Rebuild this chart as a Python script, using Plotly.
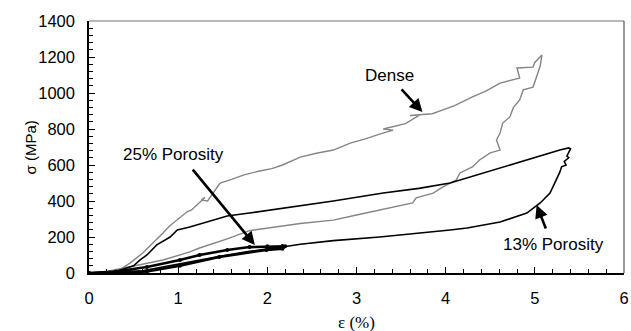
import plotly.graph_objects as go

# Dense specimen (loading + unloading)
dense_x = [0, 0.2, 0.35, 0.46, 0.6, 0.75, 0.83, 0.9, 0.95, 1.02, 1.1, 1.15, 1.21, 1.3, 1.26, 1.33, 1.39, 1.47,
           1.6, 1.73, 1.9, 2.05, 2.17, 2.37, 2.55, 2.74, 2.93, 3.1, 3.25, 3.41, 3.3, 3.55, 3.71, 3.6, 3.85, 3.97,
           4.1, 4.3, 4.45, 4.61, 4.72, 4.83, 4.8, 4.98, 5.0, 5.06, 5.08,
           5.06, 5.02, 4.98, 4.87, 4.83, 4.76, 4.72, 4.64, 4.61, 4.57, 4.61, 4.50, 4.38, 4.30, 4.16, 4.12,
           4.05, 3.97, 3.86, 3.67, 3.63, 3.41, 3.26, 3.00, 2.74, 2.37, 1.80, 1.55, 1.24, 1.13, 0.83, 0.46, 0.2, 0]
dense_y = [0, 5, 20, 55, 110, 180, 222, 260, 280, 311, 340, 350, 378, 420, 405, 400, 444, 500,
           520, 544, 565, 580, 600, 644, 665, 683, 722, 745, 770, 794, 800, 830, 878, 875, 885, 906,
           930, 978, 1010, 1055, 1070, 1083, 1139, 1144, 1170, 1200, 1211,
           1150, 1089, 1033, 1017, 961, 920, 867, 833, 778, 739, 683, 667, 628, 589, 556, 517,
           500, 478, 444, 417, 389, 367, 350, 322, 294, 275, 235, 190, 139, 117, 72, 33, 8, 0]

# 13% porosity (loading + unloading)
p13_x = [0, 0.3, 0.5, 0.57, 0.65, 0.76, 0.91, 0.99, 1.13, 1.39, 1.55, 1.80, 2.37, 2.74, 3.30, 3.70, 4.05,
         4.42, 4.80, 5.17, 5.28, 5.38,
         5.40, 5.36, 5.38, 5.33, 5.35, 5.30, 5.28, 5.24, 5.17, 5.06, 4.91, 4.61, 4.24, 4.05, 3.49, 3.26,
         2.74, 2.37, 2.17, 1.8, 1.5, 1.0, 0.6, 0.3, 0]
p13_y = [0, 8, 40, 72, 100, 156, 200, 239, 256, 294, 317, 333, 372, 400, 444, 470, 500,
         556, 611, 667, 683, 695,
         690, 650, 640, 620, 600, 590, 560, 517, 444, 389, 333, 283, 250, 239, 211, 200,
         180, 160, 144, 120, 95, 50, 12, 3, 0]

# 25% porosity (loading + unloading)
p25_x = [0, 0.3, 0.65, 1.02, 1.24, 1.55, 1.80, 2.0, 2.17, 2.2, 2.17, 1.99, 1.46, 1.02, 0.65, 0.3, 0]
p25_y = [0, 8, 33, 72, 100, 128, 144, 148, 150, 148, 135, 128, 89, 40, 8, 2, 0]

x_ticks = [0, 1, 2, 3, 4, 5, 6]
y_ticks = [0, 200, 400, 600, 800, 1000, 1200, 1400]

FONT = "Liberation Sans, Arial, sans-serif"

fig = go.Figure()
fig.add_trace(go.Scatter(x=dense_x, y=dense_y, mode="lines",
                         line=dict(color="#858585", width=1.4), showlegend=False))
fig.add_trace(go.Scatter(x=p13_x, y=p13_y, mode="lines",
                         line=dict(color="black", width=1.6), showlegend=False))
fig.add_trace(go.Scatter(x=p25_x, y=p25_y, mode="lines+markers",
                         line=dict(color="black", width=2.6),
                         marker=dict(color="black", size=4, symbol="circle"), showlegend=False))

arrow = dict(showarrow=True, arrowhead=2, arrowsize=1.0, arrowwidth=2.6, arrowcolor="black",
             axref="x", ayref="y", xref="x", yref="y")
fig.add_annotation(x=3.74, y=894, ax=3.49, ay=1028, text="", **arrow)
fig.add_annotation(x=1.86, y=156, ax=1.15, ay=583, text="", **arrow)
fig.add_annotation(x=5.02, y=378, ax=5.13, ay=239, text="", **arrow)

txt = dict(showarrow=False, xref="x", yref="y", font=dict(family=FONT, size=17, color="black"))
fig.add_annotation(x=3.37, y=1100, text="Dense", **txt)
fig.add_annotation(x=0.95, y=661, text="25% Porosity", **txt)
fig.add_annotation(x=5.21, y=156, text="13% Porosity", **txt)

# top and right frame lines
fig.add_shape(type="line", xref="x domain", yref="y domain", x0=0, x1=1, y0=1, y1=1,
              line=dict(color="#a0a0a0", width=1.5))
fig.add_shape(type="line", xref="x domain", yref="y domain", x0=1, x1=1, y0=0, y1=1,
              line=dict(color="#555555", width=1.2))

# axis titles as paper annotations
fig.add_annotation(x=0.5, y=-0.151, xref="paper", yref="paper", yanchor="top", showarrow=False,
                   text="ε (%)", font=dict(family="Liberation Serif, Times New Roman, serif",
                                           size=17, color="black"))
fig.add_annotation(x=-0.129, y=0.5, xref="paper", yref="paper", showarrow=False, textangle=-90,
                   text="σ (MPa)", font=dict(family=FONT, size=15, color="black"))

fig.update_xaxes(range=[0, 6], tickvals=x_ticks, ticktext=[str(v) for v in x_ticks],
                 ticks="inside", ticklen=6, tickcolor="black", showline=True, linecolor="black",
                 linewidth=1.5, showgrid=False, zeroline=False, ticklabelstandoff=9, automargin=False,
                 tickfont=dict(family=FONT, size=16.5, color="black"),
                 minor=dict(dtick=0.2, ticks="inside", ticklen=4, tickcolor="black", showgrid=False))
fig.update_yaxes(range=[0, 1400], tickvals=y_ticks, ticktext=[str(v) for v in y_ticks],
                 ticks="inside", ticklen=6, tickcolor="black", showline=True, linecolor="black",
                 linewidth=1.5, showgrid=False, zeroline=False, ticklabelstandoff=9, automargin=False,
                 tickfont=dict(family=FONT, size=16.5, color="black"),
                 minor=dict(dtick=40, ticks="inside", ticklen=4, tickcolor="black", showgrid=False))

fig.update_layout(width=631, height=331, plot_bgcolor="white", paper_bgcolor="white",
                  margin=dict(l=89, r=7, t=21, b=58))

fig.write_html("out.html", config={"displayModeBar": False},
               post_script="document.body.style.margin='0';document.body.style.overflow='hidden';")
